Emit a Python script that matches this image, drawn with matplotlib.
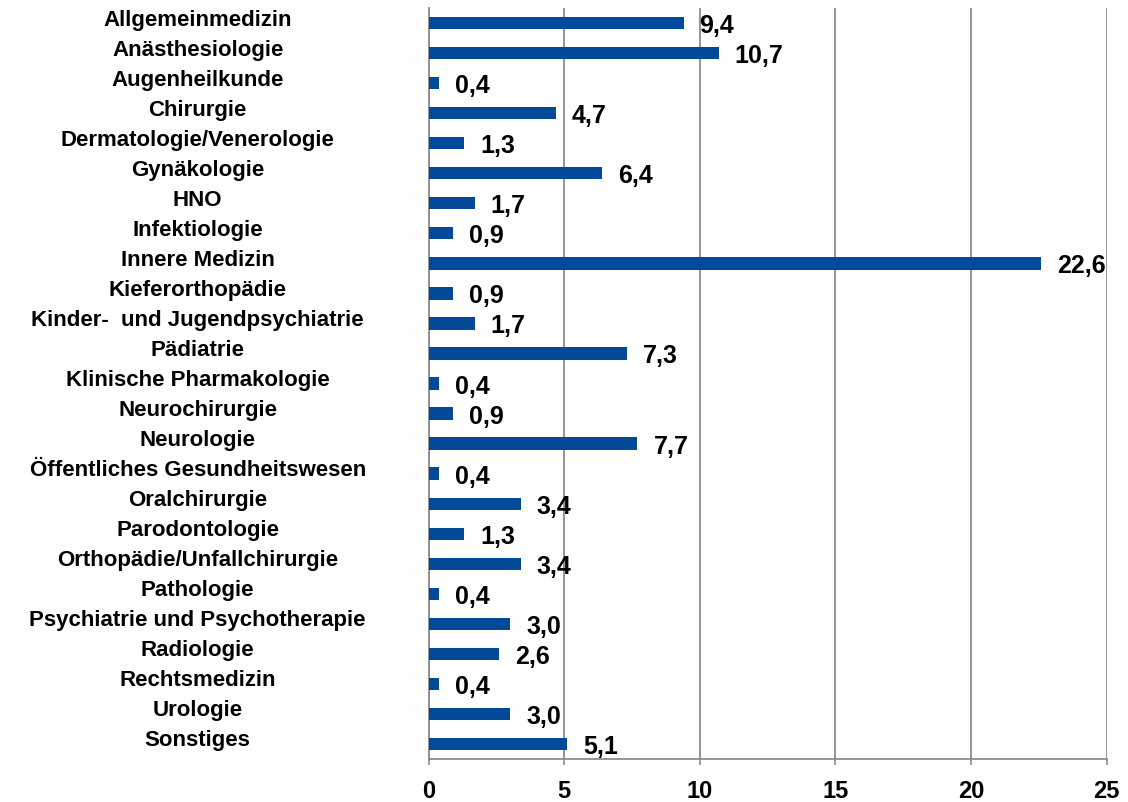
import matplotlib.pyplot as plt

categories = ["Allgemeinmedizin", "Anästhesiologie", "Augenheilkunde", "Chirurgie",
              "Dermatologie/Venerologie", "Gynäkologie", "HNO", "Infektiologie",
              "Innere Medizin", "Kieferorthopädie", "Kinder-  und Jugendpsychiatrie",
              "Pädiatrie", "Klinische Pharmakologie", "Neurochirurgie", "Neurologie",
              "Öffentliches Gesundheitswesen", "Oralchirurgie", "Parodontologie",
              "Orthopädie/Unfallchirurgie", "Pathologie", "Psychiatrie und Psychotherapie",
              "Radiologie", "Rechtsmedizin", "Urologie", "Sonstiges"]
values = [9.4, 10.7, 0.4, 4.7, 1.3, 6.4, 1.7, 0.9, 22.6, 0.9, 1.7, 7.3, 0.4, 0.9,
          7.7, 0.4, 3.4, 1.3, 3.4, 0.4, 3.0, 2.6, 0.4, 3.0, 5.1]
xticks = [0, 5, 10, 15, 20, 25]

plt.rcParams['font.family'] = ['Liberation Sans', 'DejaVu Sans']
plt.rcParams['font.weight'] = 'bold'

fig = plt.figure(figsize=(11.28, 8.02), dpi=100)
ax = fig.add_axes([0.380, 0.0536, 0.601, 0.9364])

ypos = list(range(len(categories)))
ax.barh(ypos, values, height=0.41, color='#02499A', zorder=3)
ax.set_ylim(len(categories) - 0.5, -0.5)
ax.set_xlim(0, 25)
ax.set_xticks(xticks)
ax.set_xticklabels([str(t) for t in xticks], fontsize=17, fontweight='bold')
ax.tick_params(axis='x', direction='out', length=4.3, width=1.2, color='#8c8c8c', pad=11)
ax.set_yticks([])
ax.grid(axis='x', color='#8c8c8c', linewidth=1.3, zorder=0)
for s in ['top', 'right']:
    ax.spines[s].set_visible(False)
ax.spines['left'].set_color('#8c8c8c')
ax.spines['bottom'].set_color('#8c8c8c')
ax.spines['left'].set_linewidth(1.3)
ax.spines['bottom'].set_linewidth(1.3)

for i, (c, v) in enumerate(zip(categories, values)):
    ax.annotate(c, xy=(0, i), xycoords=('axes fraction', 'data'),
                xytext=(-231, 3), textcoords='offset pixels',
                ha='center', va='center', fontsize=16, fontweight='bold')
    ax.annotate(f"{v:.1f}".replace('.', ','), xy=(v, i),
                xytext=(16, -3), textcoords='offset pixels',
                ha='left', va='center', fontsize=18, fontweight='bold')

fig.savefig('out.png', dpi=100)
